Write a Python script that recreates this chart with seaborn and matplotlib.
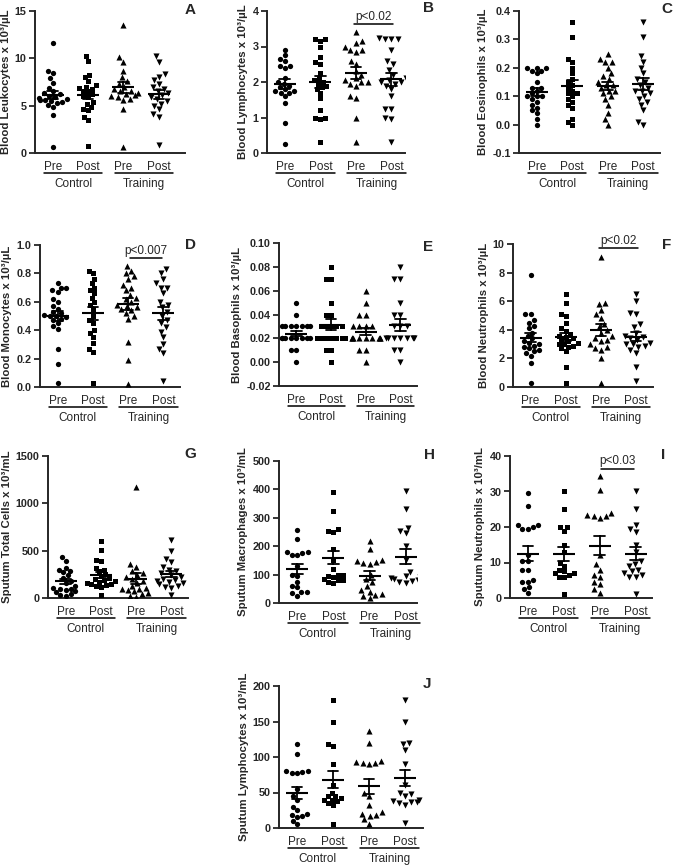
import numpy as np
import pandas as pd
import matplotlib
matplotlib.use('Agg')
import matplotlib.pyplot as plt
import seaborn as sns

# groups and labels
groups = ['Control Pre', 'Control Post', 'Training Pre', 'Training Post']
tick_names = ['Pre', 'Post', 'Pre', 'Post']
pair_names = ['Control', 'Training']

# A - blood leukocytes
leuko_cpre = [11.6, 8.7, 8.4, 7.9, 7.4, 6.9, 6.5, 6.3, 6.2, 6.0, 5.9, 5.8, 5.7, 5.6, 5.6, 5.5, 5.4, 5.3, 5.1, 4.9, 4.0, 0.6]
leuko_cpost = [10.2, 9.7, 8.2, 8.0, 7.6, 7.2, 7.0, 6.9, 6.8, 6.6, 6.5, 6.2, 6.0, 5.9, 5.4, 5.2, 4.9, 4.7, 4.5, 3.8, 3.5, 0.7]
leuko_tpre = [13.5, 10.1, 9.6, 8.7, 8.0, 7.6, 7.3, 7.0, 6.8, 6.6, 6.5, 6.3, 6.2, 6.1, 6.0, 5.9, 5.7, 5.6, 4.6, 0.6]
leuko_tpost = [10.2, 9.6, 8.3, 8.0, 7.7, 7.3, 7.0, 6.8, 6.6, 6.3, 6.1, 5.9, 5.7, 5.5, 5.2, 5.0, 4.6, 4.1, 3.8, 0.8]

# B - blood lymphocytes
lymph_cpre = [2.9, 2.75, 2.65, 2.6, 2.45, 2.45, 2.4, 2.1, 2.0, 1.95, 1.9, 1.85, 1.8, 1.75, 1.75, 1.7, 1.7, 1.6, 1.4, 0.85, 0.25]
lymph_cpost = [3.2, 3.2, 3.15, 3.0, 2.7, 2.55, 2.5, 2.25, 2.1, 2.05, 2.0, 1.95, 1.9, 1.85, 1.8, 1.7, 1.55, 1.2, 1.0, 1.0, 0.95, 0.3]
lymph_tpre = [3.4, 3.15, 3.1, 3.0, 2.9, 2.9, 2.85, 2.6, 2.5, 2.3, 2.2, 2.1, 2.05, 2.0, 2.0, 1.95, 1.9, 1.6, 1.55, 1.0, 0.3]
lymph_tpost = [3.25, 3.2, 3.2, 3.2, 2.9, 2.6, 2.5, 2.35, 2.2, 2.1, 2.05, 2.0, 2.0, 1.95, 1.9, 1.8, 1.6, 1.25, 1.25, 1.0, 0.95, 0.3]

# C - blood eosinophils
eos_cpre = [0.2, 0.2, 0.2, 0.19, 0.19, 0.18, 0.15, 0.13, 0.13, 0.12, 0.11, 0.1, 0.1, 0.1, 0.09, 0.08, 0.07, 0.06, 0.05, 0.04, 0.02, 0.0]
eos_cpost = [0.36, 0.31, 0.23, 0.22, 0.2, 0.18, 0.16, 0.15, 0.14, 0.13, 0.12, 0.11, 0.11, 0.1, 0.09, 0.08, 0.07, 0.06, 0.02, 0.01, 0.0]
eos_tpre = [0.25, 0.23, 0.22, 0.22, 0.2, 0.18, 0.17, 0.16, 0.15, 0.14, 0.14, 0.13, 0.12, 0.12, 0.11, 0.1, 0.09, 0.07, 0.04, 0.02, 0.0]
eos_tpost = [0.36, 0.31, 0.24, 0.22, 0.2, 0.18, 0.16, 0.15, 0.14, 0.13, 0.12, 0.12, 0.11, 0.1, 0.09, 0.08, 0.07, 0.05, 0.01, 0.0]

# D - blood monocytes
mono_cpre = [0.73, 0.7, 0.7, 0.68, 0.67, 0.62, 0.6, 0.57, 0.55, 0.53, 0.52, 0.51, 0.5, 0.5, 0.49, 0.48, 0.47, 0.45, 0.43, 0.41, 0.27, 0.16, 0.03]
mono_cpost = [0.82, 0.8, 0.76, 0.73, 0.7, 0.68, 0.66, 0.63, 0.6, 0.58, 0.55, 0.5, 0.47, 0.45, 0.4, 0.38, 0.35, 0.31, 0.27, 0.25, 0.03]
mono_tpre = [0.85, 0.82, 0.8, 0.78, 0.76, 0.72, 0.7, 0.68, 0.65, 0.63, 0.62, 0.6, 0.58, 0.57, 0.56, 0.55, 0.54, 0.52, 0.5, 0.48, 0.32, 0.19, 0.02]
mono_tpost = [0.83, 0.8, 0.76, 0.73, 0.7, 0.7, 0.66, 0.6, 0.58, 0.56, 0.53, 0.5, 0.47, 0.45, 0.42, 0.39, 0.35, 0.3, 0.27, 0.24, 0.04]

# E - blood basophils
baso_cpre = [0.05, 0.04, 0.03, 0.03, 0.03, 0.03, 0.03, 0.03, 0.03, 0.02, 0.02, 0.02, 0.02, 0.02, 0.02, 0.02, 0.02, 0.01, 0.01, 0.0]
baso_cpost = [0.08, 0.07, 0.07, 0.05, 0.04, 0.04, 0.03, 0.03, 0.03, 0.03, 0.03, 0.02, 0.02, 0.02, 0.02, 0.02, 0.02, 0.02, 0.01, 0.01, 0.0]
baso_tpre = [0.06, 0.05, 0.04, 0.04, 0.03, 0.03, 0.03, 0.03, 0.02, 0.02, 0.02, 0.02, 0.02, 0.02, 0.02, 0.02, 0.02, 0.01, 0.01, 0.0]
baso_tpost = [0.08, 0.07, 0.07, 0.05, 0.04, 0.04, 0.03, 0.03, 0.03, 0.02, 0.02, 0.02, 0.02, 0.02, 0.02, 0.02, 0.01, 0.01, 0.0]

# F - blood neutrophils
neut_cpre = [7.8, 5.1, 5.1, 4.7, 4.5, 4.3, 4.1, 3.8, 3.6, 3.4, 3.2, 3.1, 3.0, 2.9, 2.8, 2.7, 2.6, 2.5, 2.4, 2.2, 1.7, 0.3]
neut_cpost = [6.5, 5.9, 5.1, 5.0, 4.5, 4.1, 3.9, 3.7, 3.6, 3.5, 3.4, 3.3, 3.2, 3.1, 3.0, 3.0, 2.9, 2.8, 2.7, 2.5, 1.4, 0.3]
neut_tpre = [9.1, 5.9, 5.8, 5.4, 5.1, 4.8, 4.4, 4.2, 4.0, 3.8, 3.6, 3.4, 3.3, 3.2, 3.0, 2.8, 2.7, 2.6, 2.0, 0.3]
neut_tpost = [6.5, 6.0, 5.2, 5.1, 4.4, 4.2, 3.8, 3.6, 3.5, 3.4, 3.3, 3.1, 3.0, 3.0, 2.9, 2.8, 2.6, 2.4, 1.4, 0.4]

# G - sputum total cells
total_cpre = [430, 390, 320, 300, 290, 270, 240, 210, 180, 160, 130, 110, 100, 90, 80, 70, 60, 40, 30, 20]
total_cpost = [600, 510, 400, 390, 320, 300, 280, 250, 230, 210, 200, 190, 180, 170, 160, 150, 150, 140, 130, 120, 30]
total_tpre = [1170, 360, 330, 280, 260, 240, 220, 200, 180, 160, 130, 110, 100, 90, 80, 70, 50, 40, 20, 10]
total_tpost = [610, 500, 410, 380, 330, 300, 280, 260, 240, 220, 200, 190, 180, 170, 160, 150, 130, 120, 110, 30]

# H - sputum macrophages
macro_cpre = [258, 225, 180, 178, 175, 170, 168, 130, 100, 95, 75, 60, 55, 40, 38, 35, 25]
macro_cpost = [390, 325, 260, 255, 250, 190, 150, 120, 100, 100, 95, 90, 85, 80, 80, 75, 72]
macro_tpre = [220, 190, 150, 148, 145, 140, 138, 100, 85, 75, 60, 45, 40, 30, 28, 25, 18]
macro_tpost = [395, 330, 265, 255, 245, 200, 150, 110, 95, 90, 88, 85, 80, 78, 75, 72]

# I - sputum neutrophils
sneut_cpre = [29.5, 26, 20.5, 20.5, 20, 19.5, 19.5, 12, 10.5, 10.5, 8, 8, 5, 4.5, 4.5, 3, 2.5, 1.5]
sneut_cpost = [30, 25, 20, 20, 19, 15, 13, 10, 9, 8, 7.5, 7, 7, 6.5, 6, 6, 1]
sneut_tpre = [34.5, 30.5, 24, 23.5, 23, 23, 22.5, 12, 9.5, 8, 6.5, 6, 4.5, 4, 2.5, 1.5]
sneut_tpost = [30, 25, 20.5, 19.5, 18.5, 15, 13, 10.5, 9.5, 9, 8, 7.5, 7, 6.5, 6, 6, 1]

# J - sputum lymphocytes
slymph_cpre = [118, 104, 80, 80, 79, 78, 77, 55, 45, 40, 30, 25, 20, 18, 17, 15, 10, 5]
slymph_cpost = [180, 150, 118, 115, 90, 60, 50, 45, 45, 42, 40, 40, 38, 35, 33, 6]
slymph_tpre = [137, 120, 95, 93, 92, 91, 90, 50, 45, 32, 22, 20, 18, 17, 12, 6]
slymph_tpost = [180, 150, 120, 118, 110, 90, 60, 50, 48, 45, 40, 38, 37, 36, 35, 33, 7]

# 设置绘图风格
sns.set_style('ticks')
plt.rcParams['font.family'] = ['Liberation Sans', 'DejaVu Sans']
plt.rcParams['axes.unicode_minus'] = False

W, H = 673, 866
fig = plt.figure(figsize=(W / 100, H / 100), dpi=100)

markers = ['o', 's', '^', 'v']
msizes = [3.8, 3.6, 4.4, 4.4]

# letter, ylabel, series, ylim, ticks, fmt, axes box (l, t, r, b px), xmax, letter pos, p-bracket
panels = [
    ('A', 'Blood Leukocytes x 10³/µL', [leuko_cpre, leuko_cpost, leuko_tpre, leuko_tpost],
     (0, 15), np.arange(0, 16, 5), '%d', (35, 11, 185, 153), 3.74, (190, 10), None),
    ('B', 'Blood Lymphocytes x 10³/µL', [lymph_cpre, lymph_cpost, lymph_tpre, lymph_tpost],
     (0, 4), np.arange(0, 5, 1), '%d', (267, 11, 405, 153), 3.38, (428, 8), ('p<0.02', 3.63, 1.95, 3.05)),
    ('C', 'Blood Eosinophils x 10³/µL', [eos_cpre, eos_cpost, eos_tpre, eos_tpost],
     (-0.1, 0.4), np.arange(-0.1, 0.41, 0.1), '%.1f', (519, 11, 660, 153), 3.47, (667, 9), None),
    ('D', 'Blood Monocytes x 10³/µL', [mono_cpre, mono_cpost, mono_tpre, mono_tpost],
     (0, 1.0), np.arange(0, 1.01, 0.2), '%.1f', (40, 245, 180, 387), 3.47, (190, 245), ('p<0.007', 0.906, 2.05, 2.95)),
    ('E', 'Blood Basophils x 10³/µL', [baso_cpre, baso_cpost, baso_tpre, baso_tpost],
     (-0.02, 0.10), np.arange(-0.02, 0.101, 0.02), '%.2f', (279, 243, 417, 386), 3.48, (428, 247), None),
    ('F', 'Blood Neutrophils x 10³/µL', [neut_cpre, neut_cpost, neut_tpre, neut_tpost],
     (0, 10), np.arange(0, 11, 2), '%d', (513, 244, 653, 387), 3.48, (667, 245), ('p<0.02', 9.7, 1.95, 3.05)),
    ('G', 'Sputum Total Cells x 10³/mL', [total_cpre, total_cpost, total_tpre, total_tpost],
     (0, 1500), np.arange(0, 1501, 500), '%d', (48, 456, 188, 598), 3.47, (190, 454), None),
    ('H', 'Sputum Macrophages x 10³/mL', [macro_cpre, macro_cpost, macro_tpre, macro_tpost],
     (0, 500), np.arange(0, 501, 100), '%d', (279, 461, 417, 603), 3.31, (430, 455), None),
    ('I', 'Sputum Neutrophils x 10³/mL', [sneut_cpre, sneut_cpost, sneut_tpre, sneut_tpost],
     (0, 40), np.arange(0, 41, 10), '%d', (510, 456, 652, 598), 3.46, (663, 455), ('p<0.03', 36.4, 2.05, 2.95)),
    ('J', 'Sputum Lymphocytes x 10³/mL', [slymph_cpre, slymph_cpost, slymph_tpre, slymph_tpost],
     (0, 200), np.arange(0, 201, 50), '%d', (279, 686, 423, 828), 3.5, (427, 684), None),
]

for letter, ylabel, series, ylim, yticks, fmt, box, xmax, lpos, bracket in panels:
    l, t, r, b = box
    ax = fig.add_axes([l / W, 1 - b / H, (r - l) / W, (b - t) / H])

    df = pd.DataFrame({'grp': np.repeat(groups, [len(s) for s in series]),
                       'value': np.concatenate(series)})

    # 散点
    for g, m, s in zip(groups, markers, msizes):
        sns.swarmplot(data=df[df['grp'] == g], x='grp', y='value', order=groups,
                      marker=m, size=s, color='black', linewidth=0, warn_thresh=1, ax=ax)

    # 均值 ± SEM
    sns.pointplot(data=df, x='grp', y='value', order=groups, errorbar='se',
                  color='black', markers='_', markersize=16, markeredgewidth=1.5,
                  capsize=0.3, linestyle='none', err_kws={'linewidth': 1.3}, ax=ax)

    ax.set_xlim(-0.5, xmax)
    ax.set_ylim(*ylim)
    ax.set_yticks(yticks)
    ax.set_yticklabels([fmt % v for v in yticks], fontweight='bold')
    ax.set_xticks(range(4))
    ax.set_xticklabels(tick_names)
    ax.tick_params(axis='x', length=0, pad=6, labelsize=8.5)
    ax.tick_params(axis='y', length=4, width=1.3, labelsize=7.8, pad=2)
    ax.set_xlabel('')
    ax.set_ylabel(ylabel, fontsize=8.2, fontweight='bold', labelpad=3)
    sns.despine(ax=ax)
    ax.spines['left'].set_linewidth(1.4)
    ax.spines['bottom'].set_linewidth(1.4)

    # Control / Training 分组
    trans = ax.get_xaxis_transform()
    for k, name in enumerate(pair_names):
        x0, x1 = 2 * k - 0.25, 2 * k + 1.4
        ax.plot([x0, x1], [-0.14, -0.14], transform=trans, color='black', lw=1.1, clip_on=False)
        ax.text((x0 + x1) / 2, -0.215, name, transform=trans, ha='center', va='center', fontsize=8.5)

    # p 值
    if bracket is not None:
        label, yb, x0, x1 = bracket
        ax.plot([x0, x1], [yb, yb], color='black', lw=1.1, clip_on=False)
        ax.annotate(label, xy=((x0 + x1) / 2, yb), xytext=(0, 1), textcoords='offset points',
                    ha='center', va='bottom', fontsize=8.5, annotation_clip=False)

    fig.text(lpos[0] / W, 1 - lpos[1] / H, letter, ha='center', va='center',
             fontsize=11, fontweight='bold')

fig.savefig('out.png', dpi=100)
